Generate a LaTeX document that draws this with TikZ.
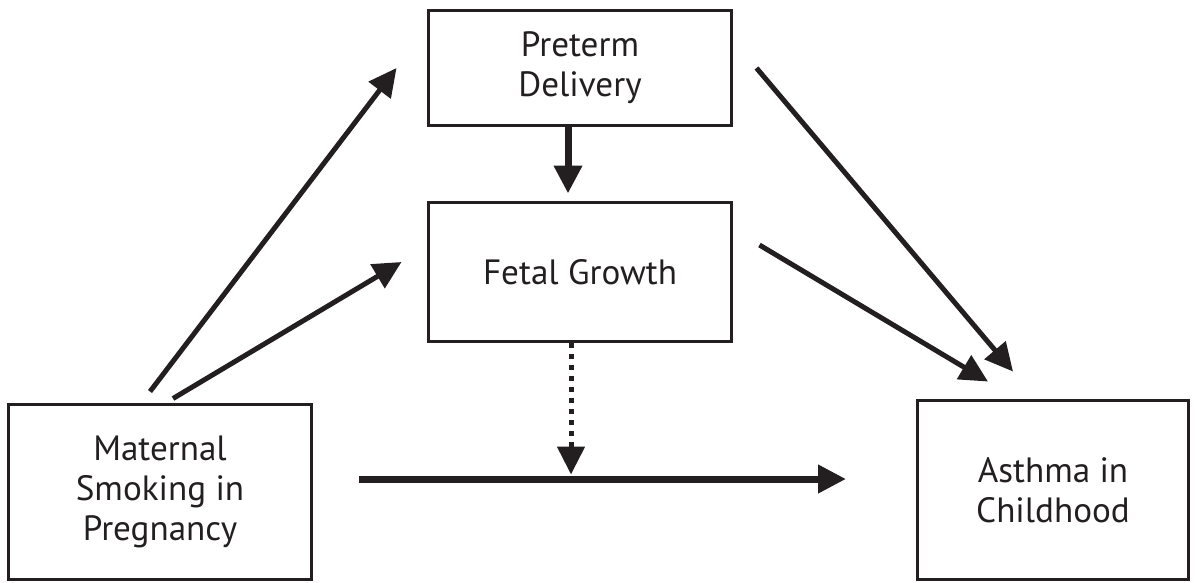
\documentclass[tikz,border=0pt]{standalone}
\usepackage{fontspec}
\setmainfont{PT Sans}
\usepackage{tikz}
\usetikzlibrary{arrows.meta}
\definecolor{ink}{HTML}{231F20}

\begin{document}
\begin{tikzpicture}[x=0.02cm,y=-0.02cm,
  >={Triangle[length=0.56cm,width=0.54cm]},
  box/.style={draw=ink,line width=0.06cm,align=center,text=ink,inner sep=0pt,
    font=\fontsize{20}{22.7}\selectfont},
  link/.style={->,draw=ink,line width=0.1cm},
  heavy/.style={->,draw=ink,line width=0.14cm},
  dotline/.style={->,draw=ink,line width=0.1cm,dash pattern=on 0.1cm off 0.12cm}]
\useasboundingbox (0,0) rectangle (1195,582);

% boxes
\node[box,minimum width=6.08cm,minimum height=2.32cm] (preterm) at (580,68) {Preterm\\Delivery};
\node[box,minimum width=6.08cm,minimum height=2.8cm] (fetal) at (580,272) {Fetal Growth};
\node[box,minimum width=6.08cm,minimum height=3.52cm] (maternal) at (160,492) {Maternal\\Smoking in\\Pregnancy};
\node[box,minimum width=5.42cm,minimum height=3.6cm] (asthma) at (1053,490) {Asthma in\\Childhood};

% arrows
\draw[link] ([shift={(-10,-11)}]maternal.north) -- ([shift={(-30,0)}]preterm.west);
\draw[link] ([shift={(13,-4)}]maternal.north) -- ([shift={(-25,-10)}]fetal.west);
\draw[link] ([shift={(23,0)}]preterm.east) -- ([shift={(-40,-27)}]asthma.north);
\draw[link] ([shift={(26,-27)}]fetal.east) -- ([shift={(-65,-17)}]asthma.north);
\draw[heavy] ([shift={(-12,0)}]preterm.south) -- ([shift={(-12,-7)}]fetal.north);

\coordinate (direct) at ([shift={(46,-13)}]maternal.east);
\draw[heavy,shorten >=1.4cm] (direct) -- (direct -| asthma.west);
\draw[dotline] ([shift={(-9,0)}]fetal.south) -- ([shift={(-9,131)}]fetal.south);
\end{tikzpicture}
\end{document}
